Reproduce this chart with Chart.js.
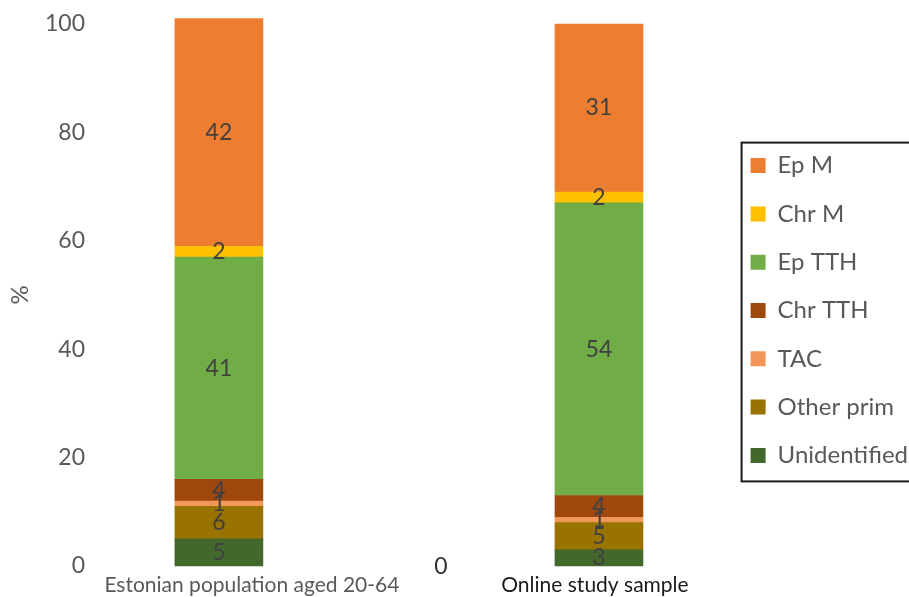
<!DOCTYPE html>
<html>
<head>
<meta charset="utf-8">
<script src="https://cdn.jsdelivr.net/npm/chart.js@4"></script>
<style>
  html, body { margin: 0; padding: 0; background: #fff; }
  #wrap { width: 909px; height: 597px; position: relative; }
</style>
</head>
<body>
<div id="wrap"><canvas id="chart"></canvas></div>
<script>
// groups (x positions 0 and 1)
const groups = ['Estonian population aged 20-64', 'Online study sample'];

// series, bottom of the stack first
const seriesNames = ['Unidentified', 'Other prim', 'TAC', 'Chr TTH', 'Ep TTH', 'Chr M', 'Ep M'];
const unidentified = [5, 3];
const otherPrim = [6, 5];
const tac = [1, 1];
const chrTTH = [4, 4];
const epTTH = [41, 54];
const chrM = [2, 2];
const epM = [42, 31];
const seriesColors = ['#43682B', '#997300', '#F1975A', '#9E480E', '#70AD47', '#FFC000', '#ED7D31'];

const yTicks = [0, 20, 40, 60, 80, 100];

const FONT = 'Lato';
const GRAY = '#595959';

const seriesValues = [unidentified, otherPrim, tac, chrTTH, epTTH, chrM, epM];

const datasets = seriesNames.map((name, i) => ({
    label: name,
    data: seriesValues[i].map((v, j) => ({ x: j, y: v })),
    backgroundColor: seriesColors[i],
    borderWidth: 0,
    barThickness: 88,
    clip: false
}));

// label tweaks for the category text under the bars
const groupLabelShift = [33, -4];
const groupLabelColor = [GRAY, '#1a1a1a'];

const extrasPlugin = {
    id: 'extras',
    afterDatasetsDraw(chart) {
        const ctx = chart.ctx;
        ctx.save();
        ctx.font = '23px ' + FONT;
        ctx.fillStyle = '#404040';
        ctx.textAlign = 'center';
        ctx.textBaseline = 'middle';
        chart.data.datasets.forEach((ds, i) => {
            const meta = chart.getDatasetMeta(i);
            meta.data.forEach((bar, j) => {
                ctx.fillText(String(ds.data[j].y), bar.x, (bar.y + bar.base) / 2);
            });
        });
        ctx.restore();
    },
    afterDraw(chart) {
        const ctx = chart.ctx;
        const xs = chart.scales.x;
        const ys = chart.scales.y;
        ctx.save();

        // category labels
        ctx.textAlign = 'center';
        ctx.textBaseline = 'middle';
        groups.forEach((g, i) => {
            ctx.font = '21px ' + FONT;
            ctx.fillStyle = groupLabelColor[i];
            ctx.fillText(g, xs.getPixelForValue(i) + groupLabelShift[i], 585);
        });

        // stray zero of the second axis
        ctx.font = '23px ' + FONT;
        ctx.fillStyle = '#333';
        ctx.fillText('0', xs.getPixelForValue(0.584), ys.getPixelForValue(0) + 1);

        // legend frame
        const hb = chart.legend.legendHitBoxes;
        if (hb && hb.length) {
            const first = hb[0];
            const last = hb[hb.length - 1];
            const left = first.left - 9;
            const top = first.top - 11;
            const bottom = last.top + last.height + 14;
            ctx.strokeStyle = '#1a1a1a';
            ctx.lineWidth = 2;
            ctx.strokeRect(left, top, chart.width + 10 - left, bottom - top);
        }
        ctx.restore();
    }
};

new Chart(document.getElementById('chart'), {
    type: 'bar',
    data: { datasets },
    options: {
        responsive: true,
        maintainAspectRatio: false,
        animation: false,
        layout: { padding: { top: 24, right: -9, bottom: 0, left: 0 } },
        scales: {
            x: {
                type: 'linear',
                stacked: true,
                offset: false,
                min: -0.326,
                max: 1.335,
                grid: { display: false },
                border: { display: false },
                ticks: { display: false },
                afterFit: scale => { scale.height = 31; }
            },
            y: {
                stacked: true,
                min: 0,
                max: 100,
                afterBuildTicks: scale => { scale.ticks = yTicks.map(v => ({ value: v })); },
                grid: { display: false, drawTicks: false },
                border: { display: false },
                ticks: {
                    padding: 10,
                    color: GRAY,
                    font: { family: FONT, size: 23 }
                },
                title: {
                    display: true,
                    text: '%',
                    color: GRAY,
                    font: { family: FONT, size: 24 },
                    padding: { top: 6, bottom: 0 }
                },
                afterFit: scale => { scale.width = 95; }
            }
        },
        plugins: {
            legend: {
                position: 'right',
                reverse: true,
                labels: {
                    boxWidth: 15,
                    boxHeight: 15,
                    padding: 24.3,
                    color: GRAY,
                    font: { family: FONT, size: 24 }
                }
            },
            tooltip: { enabled: false }
        }
    },
    plugins: [extrasPlugin]
});
</script>
</body>
</html>
